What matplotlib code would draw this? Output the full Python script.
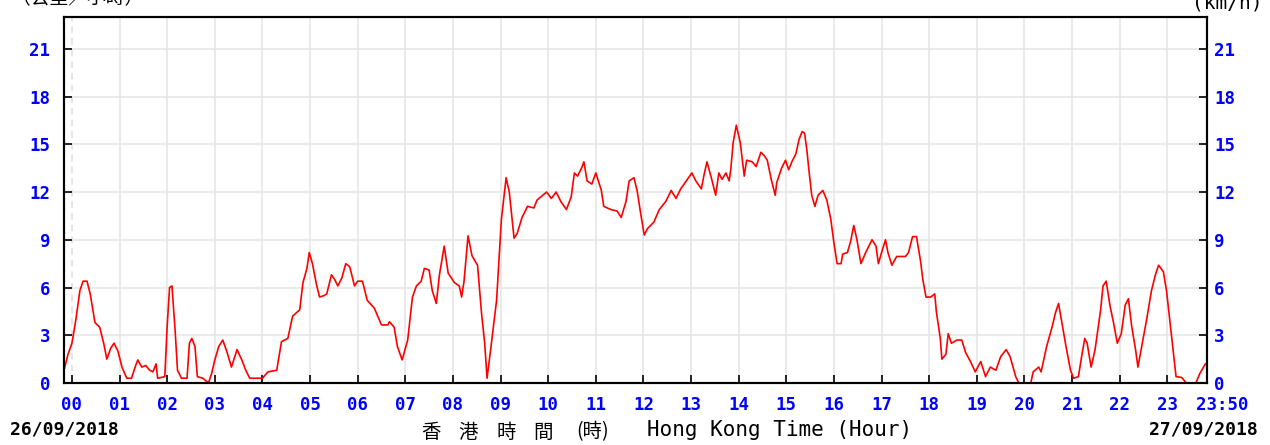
import numpy as np
import matplotlib
matplotlib.use("Agg")
import matplotlib.pyplot as plt
from matplotlib.transforms import ScaledTranslation

# minutes after 00:00 on 26/09/2018 and wind speed (km/h)
minutes = [-10, -5, 0, 5, 10, 14, 19, 23, 29, 35, 40, 44, 49, 53, 58, 63, 69, 75, 81, 83,
           88, 93, 98, 102, 106, 108, 117, 120, 123, 126, 130, 133, 138, 145, 148, 151, 155, 158, 165, 172,
           176, 180, 185, 190, 195, 201, 208, 214, 219, 224, 240, 247, 258, 264, 272, 278, 287, 291, 296, 299,
           303, 308, 312, 318, 321, 327, 331, 335, 340, 345, 350, 356, 360, 366, 372, 381, 390, 398, 400, 406,
           410, 416, 423, 429, 434, 440, 444, 450, 454, 459, 463, 469, 474, 482, 488, 491, 494, 499, 504, 511,
           516, 520, 523, 528, 535, 541, 547, 551, 557, 561, 567, 574, 582, 586, 598, 604, 610, 616, 623, 629,
           633, 637, 642, 645, 649, 655, 660, 667, 670, 679, 687, 692, 698, 702, 708, 712, 717, 721, 725, 733,
           740, 748, 755, 761, 767, 774, 781, 786, 793, 796, 800, 806, 811, 815, 819, 824, 828, 830, 833, 837,
           842, 847, 850, 857, 862, 868, 872, 876, 881, 886, 888, 894, 899, 903, 907, 912, 916, 920, 923, 926,
           928, 932, 936, 940, 946, 951, 956, 960, 964, 969, 971, 977, 981, 985, 989, 994, 1000, 1004, 1008, 1013,
           1016, 1020, 1025, 1028, 1033, 1039, 1044, 1050, 1054, 1059, 1064, 1069, 1072, 1076, 1082, 1087, 1089, 1094, 1096, 1101,
           1104, 1108, 1115, 1121, 1126, 1132, 1138, 1145, 1151, 1157, 1164, 1170, 1177, 1182, 1189, 1193, 1208, 1211, 1218, 1221,
           1228, 1235, 1239, 1243, 1247, 1252, 1258, 1262, 1268, 1272, 1276, 1279, 1284, 1289, 1296, 1299, 1303, 1308, 1312, 1317,
           1322, 1327, 1331, 1335, 1340, 1343, 1347, 1354, 1360, 1365, 1369, 1375, 1379, 1385, 1391, 1398, 1404, 1416, 1421, 1428]
speed = [0.8, 1.8, 2.5, 4.0, 5.8, 6.4, 6.4, 5.6, 3.8, 3.5, 2.5, 1.5, 2.2, 2.5, 2.0, 1.0, 0.3, 0.3, 1.2, 1.45,
         1.0, 1.1, 0.8, 0.7, 1.2, 0.3, 0.4, 3.6, 6.0, 6.1, 3.3, 0.8, 0.3, 0.3, 2.5, 2.8, 2.3, 0.4, 0.3, 0.0,
         0.6, 1.45, 2.3, 2.7, 2.0, 1.0, 2.1, 1.45, 0.8, 0.3, 0.3, 0.7, 0.8, 2.6, 2.8, 4.2, 4.6, 6.3, 7.2, 8.2,
         7.5, 6.2, 5.4, 5.5, 5.6, 6.8, 6.5, 6.1, 6.6, 7.5, 7.3, 6.1, 6.4, 6.4, 5.2, 4.7, 3.65, 3.65, 3.85, 3.5,
         2.3, 1.45, 2.7, 5.4, 6.1, 6.4, 7.2, 7.1, 5.8, 5.0, 6.8, 8.6, 6.9, 6.3, 6.1, 5.4, 6.4, 9.25, 8.0, 7.4,
         4.4, 2.5, 0.3, 2.3, 5.2, 10.25, 12.9, 12.0, 9.1, 9.4, 10.4, 11.1, 11.0, 11.5, 12.0, 11.6, 12.0, 11.4, 10.9, 11.7,
         13.2, 13.0, 13.5, 13.9, 12.7, 12.5, 13.2, 12.1, 11.1, 10.9, 10.8, 10.4, 11.4, 12.7, 12.9, 12.1, 10.5, 9.3, 9.7, 10.1,
         10.9, 11.4, 12.1, 11.6, 12.2, 12.7, 13.2, 12.7, 12.2, 13.0, 13.9, 12.8, 11.8, 13.2, 12.8, 13.2, 12.7, 13.4, 15.1, 16.2,
         15.1, 13.0, 14.0, 13.9, 13.6, 14.5, 14.3, 14.0, 12.8, 11.8, 12.6, 13.5, 14.0, 13.4, 13.9, 14.4, 15.3, 15.8, 15.7, 14.6,
         13.6, 11.8, 11.1, 11.8, 12.1, 11.5, 10.3, 8.8, 7.5, 7.5, 8.1, 8.2, 8.9, 9.9, 9.0, 7.5, 8.2, 8.6, 9.0, 8.6,
         7.5, 8.2, 9.0, 8.2, 7.4, 7.95, 7.95, 7.95, 8.2, 9.2, 9.2, 7.7, 6.5, 5.4, 5.4, 5.6, 4.5, 2.8, 1.5, 1.8,
         3.1, 2.5, 2.7, 2.7, 1.9, 1.35, 0.7, 1.35, 0.4, 1.0, 0.8, 1.65, 2.1, 1.65, 0.4, 0.0, 0.0, 0.7, 1.0, 0.7,
         2.3, 3.55, 4.4, 5.0, 3.85, 2.4, 0.8, 0.3, 0.4, 1.65, 2.8, 2.5, 1.0, 2.1, 4.6, 6.1, 6.4, 4.8, 3.85, 2.5,
         3.1, 4.9, 5.3, 3.6, 2.1, 1.0, 2.1, 4.0, 5.8, 6.8, 7.4, 7.0, 5.8, 3.1, 0.4, 0.35, 0.0, 0.0, 0.6, 1.2]

hour_ticks = list(range(0, 1440, 60)) + [1430]
hour_labels = ["%02d" % h for h in range(24)] + ["23:50"]
speed_ticks = [0, 3, 6, 9, 12, 15, 18, 21]

W, H = 1270, 445
fig = plt.figure(figsize=(W / 100, H / 100), dpi=100)
ax = fig.add_axes([64 / W, (H - 383) / H, (1207 - 64) / W, (383 - 17) / H])

ax.set_xlim(-10, 1430)
ax.set_ylim(0, 23)

# grid
for m in range(60, 1440, 60):
    ax.axvline(m, color="#e6e6e6", lw=1.2, zorder=0)
ax.axvline(0, color="#e0e0e0", lw=1.2, ls=(0, (4, 3)), zorder=0)
for s in speed_ticks[1:]:
    ax.axhline(s, color="#e6e6e6", lw=1.2, zorder=0)

ax.plot(minutes, speed, color="red", lw=1.2, zorder=3)

tick_font = dict(family="DejaVu Sans Mono", weight="bold", size=12.5)
blue = "#0000ff"
ax.set_xticks(hour_ticks)
ax.set_xticklabels(hour_labels, color=blue, **tick_font)
ax.set_yticks(speed_ticks)
ax.set_yticklabels([str(s) for s in speed_ticks], color=blue, **tick_font)
ax.tick_params(axis="both", direction="in", length=6, width=1.2, colors="black")
ax.tick_params(axis="x", pad=9, labelcolor=blue)
ax.tick_params(axis="y", pad=10, labelcolor=blue)
for sp in ax.spines.values():
    sp.set_linewidth(1.5)

# the "23:50" label sits just right of the last hour tick
last = ax.get_xticklabels()[-1]
last.set_ha("left")
last.set_transform(last.get_transform() + ScaledTranslation(-11 / 100, 0, fig.dpi_scale_trans))

# right axis, same scale
ax2 = ax.twinx()
ax2.set_ylim(0, 23)
ax2.set_yticks(speed_ticks)
ax2.set_yticklabels([str(s) for s in speed_ticks], color=blue, **tick_font)
ax2.tick_params(axis="y", direction="in", length=6, width=1.2, colors="black", pad=5, labelcolor=blue)
for sp in ax2.spines.values():
    sp.set_linewidth(1.5)

# unit labels (partly cut by the top edge)
fig.text(12 / W, 1.0 + 2 / H, "（公里／小時）", family=["Noto Sans CJK TC", "DejaVu Sans"],
         fontsize=13.5, ha="left", va="center")
fig.text(1262 / W, 1.0 - 3 / H, "(km/h)", family="DejaVu Sans Mono",
         fontsize=14, ha="right", va="center")

# bottom labels
fig.text(10 / W, 1 - 430 / H, "26/09/2018", family="DejaVu Sans Mono", weight="bold",
         fontsize=13, ha="left", va="center")
fig.text(1258 / W, 1 - 430 / H, "27/09/2018", family="DejaVu Sans Mono", weight="bold",
         fontsize=13, ha="right", va="center")
cjk = ["Noto Sans CJK TC", "DejaVu Sans"]
for ch, cx in zip("香港時間", [431, 468, 506, 543]):
    fig.text(cx / W, 1 - 432 / H, ch, family=cjk, fontsize=14, ha="center", va="center")
fig.text(593 / W, 1 - 432 / H, "(時)", family=cjk, fontsize=14, ha="center", va="center")
fig.text(647 / W, 1 - 430 / H, "Hong Kong Time (Hour)", family="DejaVu Sans Mono",
         fontsize=15, ha="left", va="center")

fig.savefig("out.png", dpi=100)
